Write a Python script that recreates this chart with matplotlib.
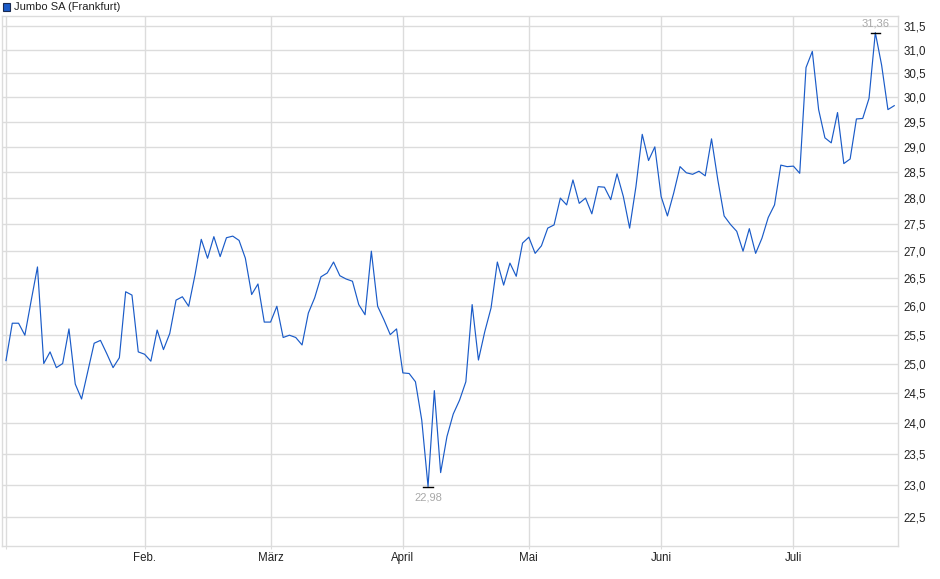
import numpy as np
import matplotlib
matplotlib.use("Agg")
from matplotlib import pyplot as plt
from matplotlib.patches import Rectangle
from matplotlib.ticker import FixedLocator, NullLocator

plt.rcParams['font.family'] = ['Liberation Sans', 'DejaVu Sans']

# daily closing prices (trading days)
prices = [25.05, 25.70, 25.70, 25.49, 26.10, 26.71, 25.00, 25.20, 24.93, 25.00,
          25.60, 24.65, 24.40, 24.87, 25.35, 25.40, 25.17, 24.93, 25.10, 26.26,
          26.20, 25.20, 25.16, 25.04, 25.58, 25.24, 25.52, 26.11, 26.17, 26.00,
          26.56, 27.22, 26.87, 27.27, 26.90, 27.25, 27.28, 27.20, 26.87, 26.21,
          26.40, 25.72, 25.72, 26.00, 25.45, 25.49, 25.45, 25.32, 25.88, 26.15,
          26.53, 26.60, 26.80, 26.55, 26.49, 26.45, 26.03, 25.85, 27.00, 26.00,
          25.76, 25.50, 25.60, 24.84, 24.83, 24.69, 24.05, 22.98, 24.54, 23.20,
          23.78, 24.15, 24.38, 24.69, 26.03, 25.06, 25.55, 25.97, 26.80, 26.38,
          26.78, 26.54, 27.15, 27.26, 26.96, 27.10, 27.43, 27.49, 28.00, 27.87,
          28.35, 27.90, 28.00, 27.70, 28.22, 28.21, 27.97, 28.47, 28.03, 27.43,
          28.22, 29.25, 28.73, 29.00, 28.03, 27.66, 28.10, 28.61, 28.49, 28.46,
          28.52, 28.43, 29.16, 28.35, 27.66, 27.50, 27.37, 27.00, 27.42, 26.96,
          27.24, 27.63, 27.87, 28.64, 28.61, 28.62, 28.48, 30.62, 30.96, 29.75,
          29.18, 29.08, 29.69, 28.67, 28.76, 29.56, 29.57, 29.98, 31.36, 30.67,
          29.75, 29.83]

# first trading day of each month (index into prices)
month_idx = [0, 22, 42, 63, 83, 104, 125]
month_labels = ['', 'Feb.', 'März', 'April', 'Mai', 'Juni', 'Juli']
y_ticks = [22.5, 23.0, 23.5, 24.0, 24.5, 25.0, 25.5, 26.0, 26.5, 27.0,
           27.5, 28.0, 28.5, 29.0, 29.5, 30.0, 30.5, 31.0, 31.5]

line_color = '#1a5bc8'
grid_color = '#dcdcdc'

W, H = 940, 579
fig = plt.figure(figsize=(W/100, H/100), dpi=100)
ax = fig.add_axes([2/W, (H-545.5)/H, (898-2)/W, (545.5-16)/H])

x = np.arange(len(prices))
ax.plot(x, prices, color=line_color, lw=0.85, zorder=3)

ax.set_yscale('log')
ax.set_ylim(22.07, 31.72)
ax.set_xlim(-0.63, 141.6)

ax.yaxis.set_major_locator(FixedLocator(y_ticks))
ax.yaxis.set_minor_locator(NullLocator())
ax.set_yticklabels([('%.1f' % v).replace('.', ',') for v in y_ticks])
ax.yaxis.tick_right()
ax.tick_params(axis='y', length=0, pad=4, labelsize=8.3, labelcolor='#222222')

ax.set_xticks(month_idx)
ax.set_xticklabels(month_labels)
ax.tick_params(axis='x', length=2, color=grid_color, pad=3, labelsize=8.3, labelcolor='#222222')

ax.grid(True, color=grid_color, lw=1.0, zorder=0)
for sp in ax.spines.values():
    sp.set_color(grid_color)
    sp.set_linewidth(1.0)

# min / max markers
imin = int(np.argmin(prices))
imax = int(np.argmax(prices))
for i, off, va in [(imin, -4, 'top'), (imax, 3, 'bottom')]:
    v = prices[i]
    ax.plot([i - 0.75, i + 0.75], [v, v], color='black', lw=1.0, zorder=4)
    ax.annotate(('%.2f' % v).replace('.', ','), xy=(i, v), xytext=(0, off),
                textcoords='offset points', ha='center', va=va,
                fontsize=8, color='#a8a8a8')

# legend box top left
fig.patches.append(Rectangle((3/W, (H-10.5)/H), 7/W, 7/H, transform=fig.transFigure,
                             facecolor=line_color, edgecolor='#1a2a50', lw=0.8))
fig.text(14/W, (H-7)/H, 'Jumbo SA (Frankfurt)', fontsize=8, va='center', ha='left',
         color='#222222')

fig.savefig('out.png', dpi=100)
